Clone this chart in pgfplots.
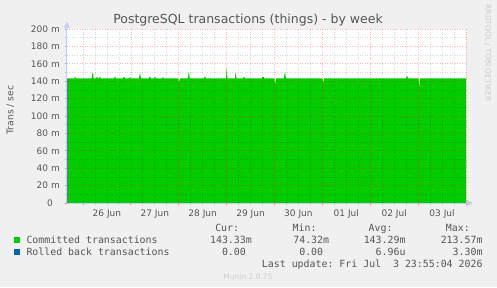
\documentclass[border=0pt]{standalone}
\usepackage{pgfplots}
\pgfplotsset{compat=1.18}
\usetikzlibrary{arrows.meta}
\usepackage{fontspec}
\setmainfont{DejaVu Sans}
\setmonofont{DejaVu Sans Mono}
\definecolor{bgc}{HTML}{F0F0F0}
\definecolor{txtc}{HTML}{555555}
\definecolor{muninc}{HTML}{CCCCCC}
\definecolor{axisc}{RGB}{196,204,250}
\definecolor{gc}{HTML}{00CC00}
\definecolor{bc}{HTML}{0066B3}
\definecolor{majg}{RGB}{255,0,0}
\begin{document}
\begin{tikzpicture}[x=1pt,y=1pt]
\fill[bgc] (0,0) rectangle (497,287);
\begin{axis}[
  at={(67pt,84pt)}, anchor=south west,
  scale only axis, width=399pt, height=174pt,
  xmin=-0.334, xmax=8, ymin=0, ymax=200,
  axis background/.style={fill=white},
  axis lines=left,
  axis line style={draw=axisc, line width=1pt},
  x axis line style={-{Triangle[width=6pt,length=6pt]}, shorten >=-7pt, fill=axisc},
  y axis line style={-{Triangle[width=6pt,length=6pt]}, shorten >=-7pt, fill=axisc},
  axis on top,
  xtick={0,1,2,3,4,5,6,7,8}, xticklabels={},
  minor x tick num=3,
  extra x ticks={0.5,1.5,2.5,3.5,4.5,5.5,6.5,7.5},
  extra x tick labels={26 Jun,27 Jun,28 Jun,29 Jun,30 Jun,01 Jul,02 Jul,03 Jul},
  extra x tick style={grid=none, major tick length=0pt},
  ytick={0,20,40,60,80,100,120,140,160,180,200},
  yticklabels={0\kern7pt,20 m,40 m,60 m,80 m,100 m,120 m,140 m,160 m,180 m,200 m},
  minor y tick num=1,
  grid=both,
  major grid style={draw=majg, draw opacity=0.28, line width=0.7pt, dash pattern=on 1pt off 1.5pt},
  minor grid style={draw=black, draw opacity=0.15, line width=0.7pt, dash pattern=on 1pt off 1.5pt},
  tick align=outside,
  major tick length=2pt, minor tick length=2pt,
  major tick style={draw=majg, draw opacity=0.5, line width=0.8pt},
  minor tick style={draw=black, draw opacity=0.2, line width=0.8pt},
  tick label style={font=\fontsize{9}{10}\selectfont, text=txtc},
  yticklabel style={anchor=east, inner sep=0pt, xshift=-5pt},
  xticklabel style={anchor=base, inner sep=0pt, yshift=-13pt},
  ylabel={Trans / sec},
  ylabel style={at={(axis description cs:-0.1416,0.534)}, anchor=center, font=\fontsize{9.2}{10}\selectfont, text=txtc},
]
\addplot[fill=gc, draw=none] coordinates {
(-0.334,143.3)
(-0.18,143.3)(-0.17,144.6)(-0.155,144.6)(-0.145,143.3)
(0.18,143.3)(0.19,147)(0.203,150)(0.215,145)(0.225,143.3)
(0.28,143.3)(0.285,144.8)(0.305,144.8)(0.31,143.3)
(0.34,143.3)(0.345,144.6)(0.365,144.6)(0.37,143.3)
(0.65,143.3)(0.66,144.6)(0.68,144.6)(0.685,143.3)
(0.84,143.3)(0.845,144.8)(0.87,144.8)(0.875,143.3)
(0.97,143.3)(0.975,144.6)(0.99,144.6)(0.995,143.3)
(1.17,143.3)(1.18,147)(1.191,149.5)(1.205,145)(1.215,143.3)
(1.38,143.3)(1.385,144.6)(1.41,144.6)(1.415,143.3)
(1.49,143.3)(1.495,144.6)(1.515,144.6)(1.52,143.3)
(1.66,143.3)(1.665,144.6)(1.68,144.6)(1.685,143.3)
(1.99,143.3)(2.0,140)(2.005,138)(2.015,141)(2.025,143.3)
(2.19,143.3)(2.2,147)(2.208,151)(2.22,146)(2.23,143.3)
(2.53,143.3)(2.535,144.8)(2.56,144.8)(2.565,143.3)
(2.99,143.3)(2.995,150)(3.002,155)(3.012,146)(3.02,143.3)
(3.175,143.3)(3.18,147)(3.19,150)(3.2,145)(3.21,143.3)
(3.35,143.3)(3.355,144.8)(3.375,144.8)(3.38,143.3)
(3.74,143.3)(3.745,144.8)(3.775,144.8)(3.78,143.3)
(4.0,143.3)(4.005,140)(4.017,135.5)(4.027,141)(4.035,143.3)
(4.2,143.3)(4.205,147)(4.219,151)(4.23,146)(4.24,143.3)
(5.0,143.3)(5.01,140)(5.019,138)(5.028,141)(5.035,143.3)
(6.75,143.3)(6.76,145.5)(6.77,146)(6.78,145)(6.785,143.3)
(7.01,143.3)(7.015,138)(7.025,132.5)(7.035,138)(7.04,143.3)
(8,143.3)
} \closedcycle;
\end{axis}
% title
\node[anchor=base, text=txtc, font=\fontsize{12.5}{14}\selectfont, inner sep=0pt] at (248,{287-23.5}) {PostgreSQL transactions (things) - by week};
% rrdtool
\node[rotate=-90, text=muninc, font=\fontsize{7.5}{8}\selectfont, inner sep=0pt] at (488,{287-53}) {RRDTOOL / TOBI OETIKER};
% legend
\begin{scope}[every node/.style={inner sep=0pt, text=txtc, font=\fontsize{9.9}{12}\ttfamily}]
\node[anchor=base east] at (239.3,{287-231}) {Cur:};
\node[anchor=base east] at (316.7,{287-231}) {Min:};
\node[anchor=base east] at (392.7,{287-231}) {Avg:};
\node[anchor=base east] at (470,{287-231}) {Max:};
\fill[gc] (14,{287-242.7}) rectangle (20,{287-236.7});
\node[anchor=base west] at (26.3,{287-243.3}) {Committed transactions};
\node[anchor=base east] at (252,{287-243.3}) {143.33m};
\node[anchor=base east] at (329.3,{287-243.3}) {74.32m};
\node[anchor=base east] at (405.7,{287-243.3}) {143.29m};
\node[anchor=base east] at (482.7,{287-243.3}) {213.57m};
\fill[bc] (14,{287-255}) rectangle (20,{287-249});
\node[anchor=base west] at (26.3,{287-255.5}) {Rolled back transactions};
\node[anchor=base east] at (252,{287-255.5}) {0.00\phantom{m}};
\node[anchor=base east] at (329.3,{287-255.5}) {0.00\phantom{m}};
\node[anchor=base east] at (405.7,{287-255.5}) {6.96u};
\node[anchor=base east] at (482.7,{287-255.5}) {3.30m};
\node[anchor=base east] at (482.7,{287-267.7}) {Last update: Fri Jul\ \ 3 23:55:04 2026};
\end{scope}
\node[anchor=base, text=muninc, font=\fontsize{7.5}{8}\selectfont, inner sep=0pt] at (248,{287-279}) {Munin 2.0.75};
\pgfresetboundingbox
\useasboundingbox (0,0) rectangle (497,287);
\end{tikzpicture}
\end{document}
